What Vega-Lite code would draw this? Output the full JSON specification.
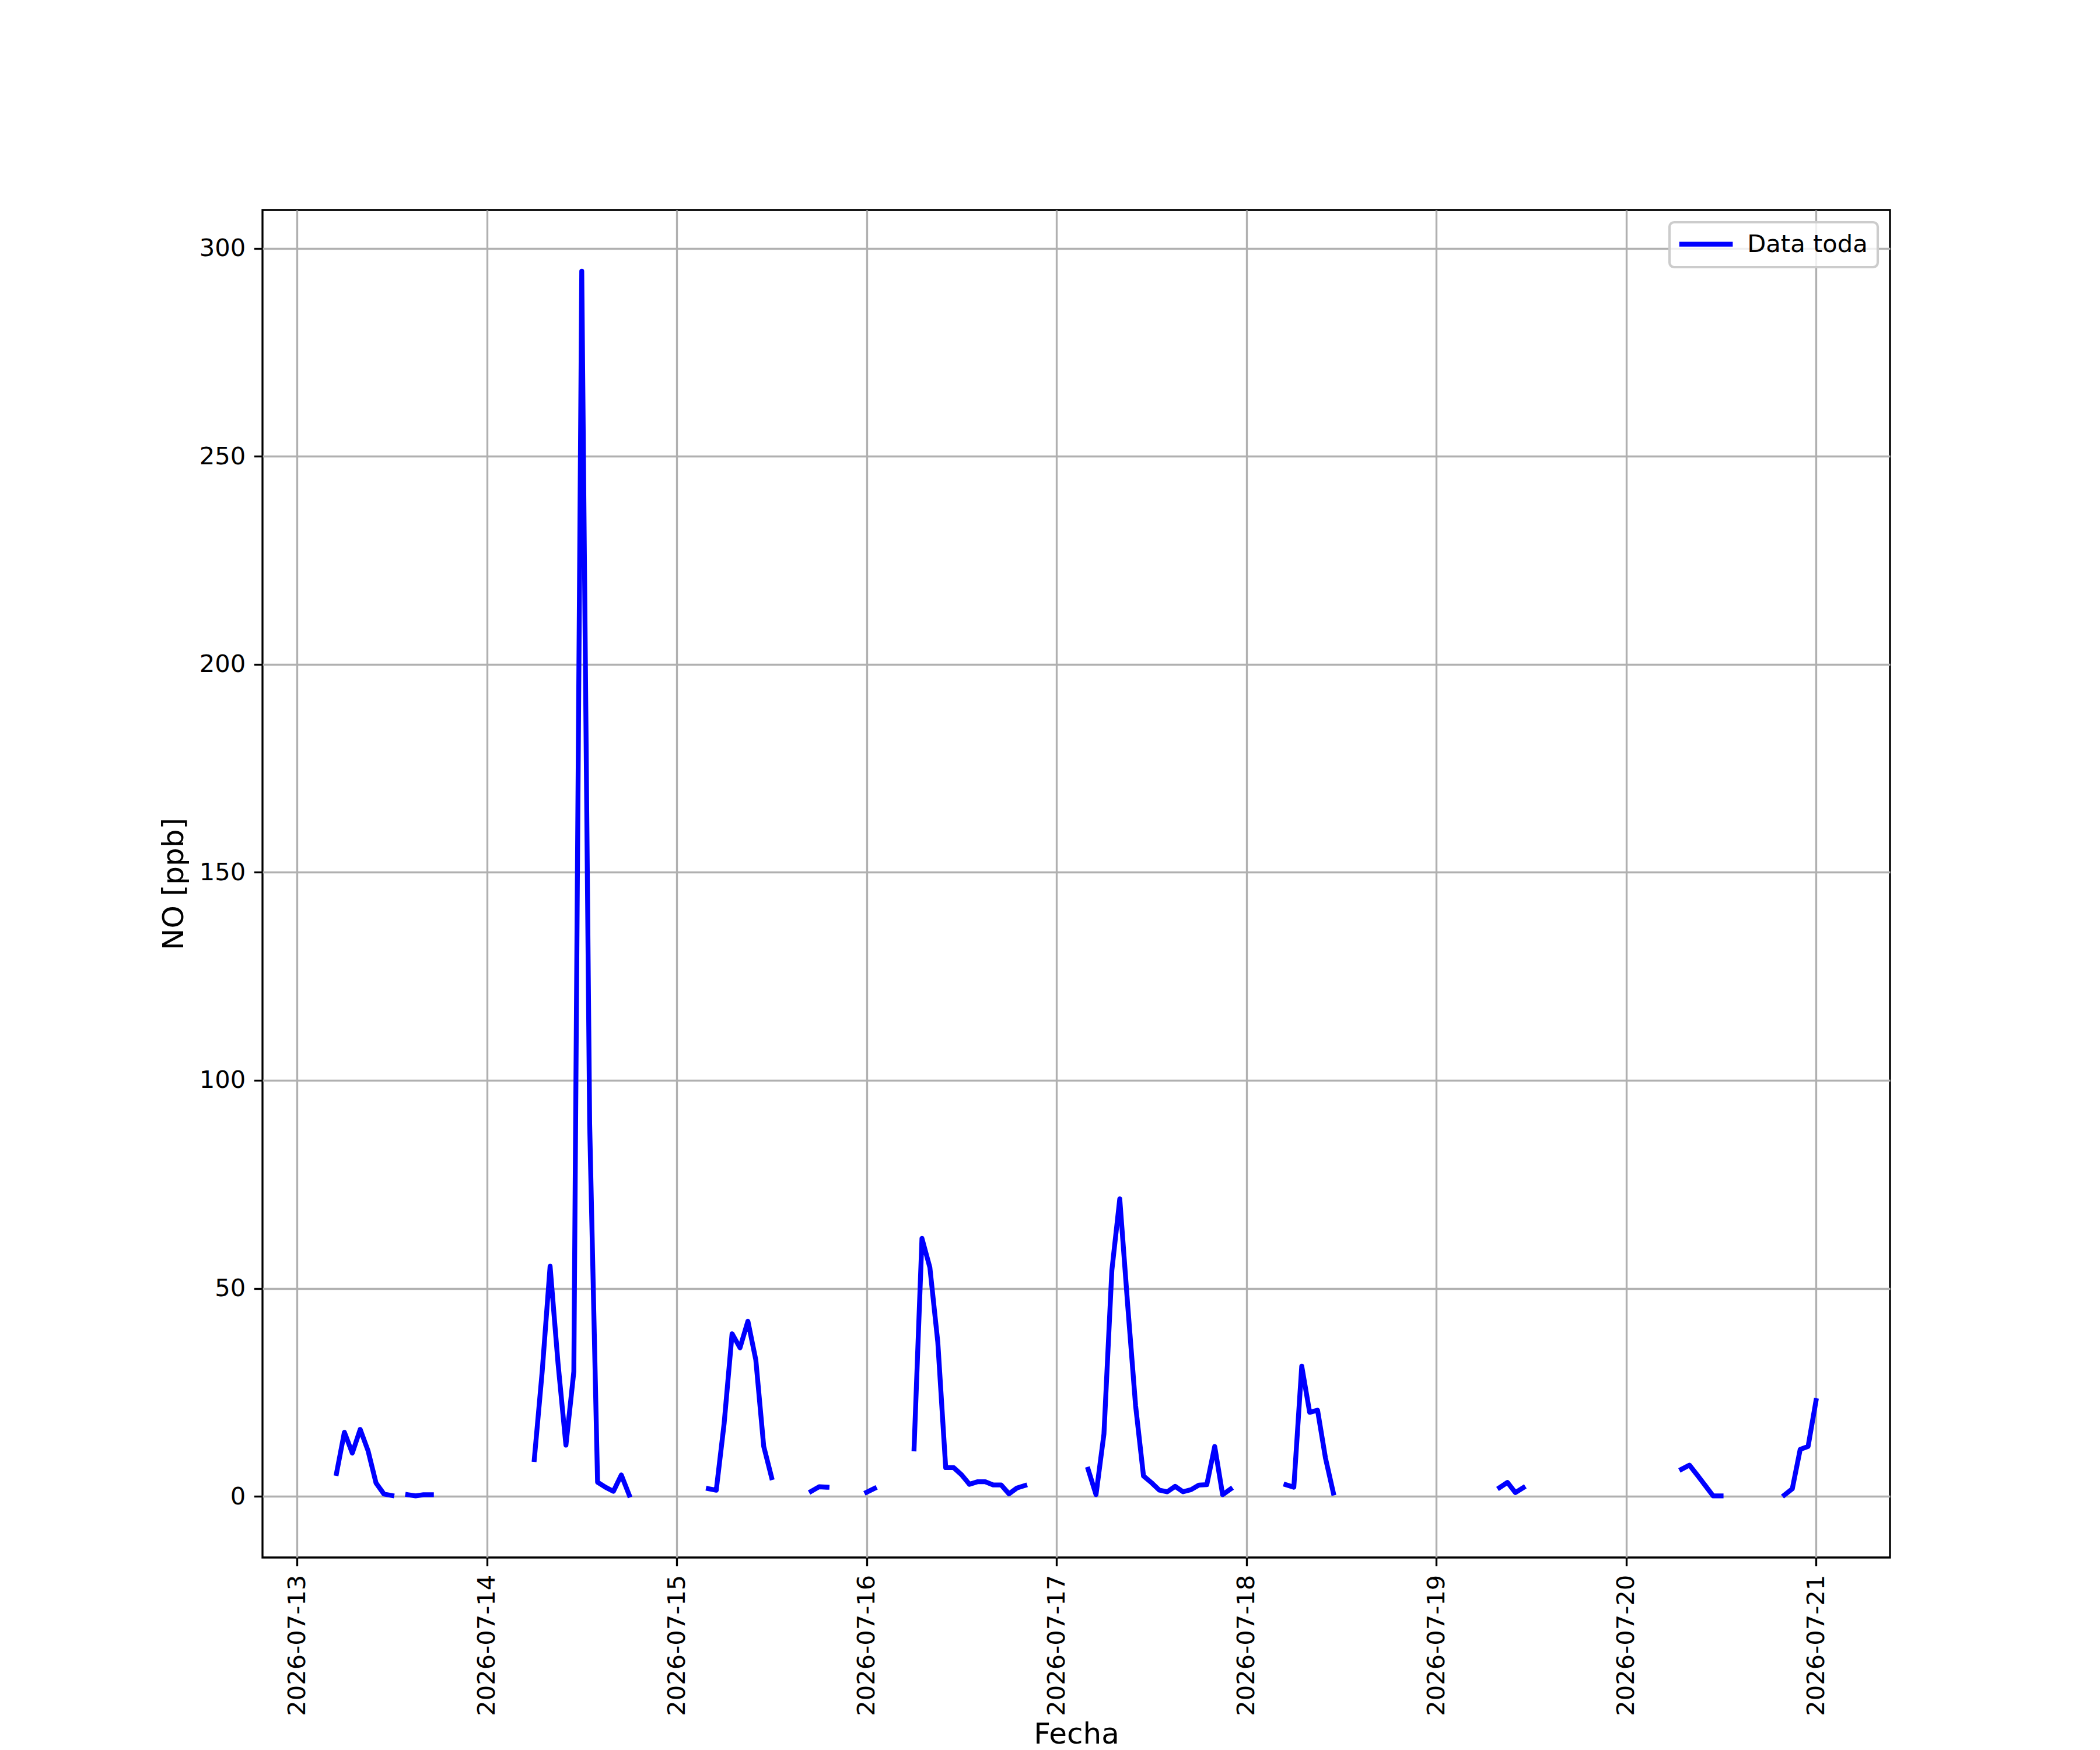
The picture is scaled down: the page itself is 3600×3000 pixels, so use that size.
{
  "$schema": "https://vega.github.io/schema/vega-lite/v6.json",
  "width": 2790,
  "height": 2310,
  "autosize": {"type": "none"},
  "padding": {"left": 450, "top": 360, "right": 360, "bottom": 330},
  "background": "#ffffff",
  "data": {
    "values": [
      {"t": "2026-07-13T05:00:00", "v": 5.5},
      {"t": "2026-07-13T06:00:00", "v": 15.4},
      {"t": "2026-07-13T07:00:00", "v": 10.4},
      {"t": "2026-07-13T08:00:00", "v": 16.1},
      {"t": "2026-07-13T09:00:00", "v": 10.9},
      {"t": "2026-07-13T10:00:00", "v": 3.2},
      {"t": "2026-07-13T11:00:00", "v": 0.55},
      {"t": "2026-07-13T12:00:00", "v": 0.2},
      {"t": "2026-07-13T13:00:00", "v": null},
      {"t": "2026-07-13T14:00:00", "v": 0.4},
      {"t": "2026-07-13T15:00:00", "v": 0.1},
      {"t": "2026-07-13T16:00:00", "v": 0.4},
      {"t": "2026-07-13T17:00:00", "v": 0.4},
      {"t": "2026-07-13T18:00:00", "v": null},
      {"t": "2026-07-14T06:00:00", "v": 8.85},
      {"t": "2026-07-14T07:00:00", "v": 30.0},
      {"t": "2026-07-14T08:00:00", "v": 55.3},
      {"t": "2026-07-14T09:00:00", "v": 32.0},
      {"t": "2026-07-14T10:00:00", "v": 12.3},
      {"t": "2026-07-14T11:00:00", "v": 30.0},
      {"t": "2026-07-14T12:00:00", "v": 294.5},
      {"t": "2026-07-14T13:00:00", "v": 89.5},
      {"t": "2026-07-14T14:00:00", "v": 3.4},
      {"t": "2026-07-14T15:00:00", "v": 2.2},
      {"t": "2026-07-14T16:00:00", "v": 1.2},
      {"t": "2026-07-14T17:00:00", "v": 5.15},
      {"t": "2026-07-14T18:00:00", "v": 0.3},
      {"t": "2026-07-14T19:00:00", "v": null},
      {"t": "2026-07-15T04:00:00", "v": 1.85},
      {"t": "2026-07-15T05:00:00", "v": 1.47},
      {"t": "2026-07-15T06:00:00", "v": 17.6},
      {"t": "2026-07-15T07:00:00", "v": 39.1},
      {"t": "2026-07-15T08:00:00", "v": 35.7},
      {"t": "2026-07-15T09:00:00", "v": 42.1},
      {"t": "2026-07-15T10:00:00", "v": 32.8},
      {"t": "2026-07-15T11:00:00", "v": 12.0},
      {"t": "2026-07-15T12:00:00", "v": 4.5},
      {"t": "2026-07-15T13:00:00", "v": null},
      {"t": "2026-07-15T17:00:00", "v": 1.2},
      {"t": "2026-07-15T18:00:00", "v": 2.3},
      {"t": "2026-07-15T19:00:00", "v": 2.2},
      {"t": "2026-07-15T20:00:00", "v": null},
      {"t": "2026-07-16T00:00:00", "v": 0.97},
      {"t": "2026-07-16T01:00:00", "v": 1.9},
      {"t": "2026-07-16T02:00:00", "v": null},
      {"t": "2026-07-16T06:00:00", "v": 11.4},
      {"t": "2026-07-16T07:00:00", "v": 62.0},
      {"t": "2026-07-16T08:00:00", "v": 55.0},
      {"t": "2026-07-16T09:00:00", "v": 37.1},
      {"t": "2026-07-16T10:00:00", "v": 6.9},
      {"t": "2026-07-16T11:00:00", "v": 6.9},
      {"t": "2026-07-16T12:00:00", "v": 5.2},
      {"t": "2026-07-16T13:00:00", "v": 2.9},
      {"t": "2026-07-16T14:00:00", "v": 3.5},
      {"t": "2026-07-16T15:00:00", "v": 3.5},
      {"t": "2026-07-16T16:00:00", "v": 2.75},
      {"t": "2026-07-16T17:00:00", "v": 2.75},
      {"t": "2026-07-16T18:00:00", "v": 0.6},
      {"t": "2026-07-16T19:00:00", "v": 2.0},
      {"t": "2026-07-16T20:00:00", "v": 2.6},
      {"t": "2026-07-16T21:00:00", "v": null},
      {"t": "2026-07-17T04:00:00", "v": 6.5},
      {"t": "2026-07-17T05:00:00", "v": 0.4},
      {"t": "2026-07-17T06:00:00", "v": 15.0},
      {"t": "2026-07-17T07:00:00", "v": 54.3},
      {"t": "2026-07-17T08:00:00", "v": 71.5},
      {"t": "2026-07-17T09:00:00", "v": 46.0},
      {"t": "2026-07-17T10:00:00", "v": 21.8},
      {"t": "2026-07-17T11:00:00", "v": 4.9},
      {"t": "2026-07-17T12:00:00", "v": 3.3},
      {"t": "2026-07-17T13:00:00", "v": 1.5},
      {"t": "2026-07-17T14:00:00", "v": 1.1},
      {"t": "2026-07-17T15:00:00", "v": 2.4},
      {"t": "2026-07-17T16:00:00", "v": 1.1},
      {"t": "2026-07-17T17:00:00", "v": 1.6},
      {"t": "2026-07-17T18:00:00", "v": 2.7},
      {"t": "2026-07-17T19:00:00", "v": 2.8},
      {"t": "2026-07-17T20:00:00", "v": 12.0},
      {"t": "2026-07-17T21:00:00", "v": 0.4},
      {"t": "2026-07-17T22:00:00", "v": 1.75},
      {"t": "2026-07-17T23:00:00", "v": null},
      {"t": "2026-07-18T05:00:00", "v": 2.8},
      {"t": "2026-07-18T06:00:00", "v": 2.2},
      {"t": "2026-07-18T07:00:00", "v": 31.3},
      {"t": "2026-07-18T08:00:00", "v": 20.2},
      {"t": "2026-07-18T09:00:00", "v": 20.7},
      {"t": "2026-07-18T10:00:00", "v": 9.2},
      {"t": "2026-07-18T11:00:00", "v": 0.8},
      {"t": "2026-07-18T12:00:00", "v": null},
      {"t": "2026-07-19T08:00:00", "v": 2.1},
      {"t": "2026-07-19T09:00:00", "v": 3.35},
      {"t": "2026-07-19T10:00:00", "v": 0.9},
      {"t": "2026-07-19T11:00:00", "v": 2.1},
      {"t": "2026-07-19T12:00:00", "v": null},
      {"t": "2026-07-20T07:00:00", "v": 6.5},
      {"t": "2026-07-20T08:00:00", "v": 7.5},
      {"t": "2026-07-20T09:00:00", "v": 5.1},
      {"t": "2026-07-20T10:00:00", "v": 2.6},
      {"t": "2026-07-20T11:00:00", "v": 0.1},
      {"t": "2026-07-20T12:00:00", "v": 0.1},
      {"t": "2026-07-20T13:00:00", "v": null},
      {"t": "2026-07-20T20:00:00", "v": 0.3},
      {"t": "2026-07-20T21:00:00", "v": 1.8},
      {"t": "2026-07-20T22:00:00", "v": 11.3},
      {"t": "2026-07-20T23:00:00", "v": 12.0},
      {"t": "2026-07-21T00:00:00", "v": 23.0}
    ]
  },
  "mark": {
    "type": "line",
    "strokeWidth": 8.33,
    "strokeCap": "square",
    "strokeJoin": "round",
    "clip": true,
    "invalid": "break-paths-show-domains"
  },
  "encoding": {
    "x": {
      "field": "t",
      "type": "temporal",
      "scale": {
        "domain": [
          {"year": 2026, "month": 7, "date": 12, "hours": 19, "minutes": 39},
          {"year": 2026, "month": 7, "date": 21, "hours": 9, "minutes": 21}
        ]
      },
      "axis": {
        "title": "Fecha",
        "values": [
          {"year": 2026, "month": 7, "date": 13},
          {"year": 2026, "month": 7, "date": 14},
          {"year": 2026, "month": 7, "date": 15},
          {"year": 2026, "month": 7, "date": 16},
          {"year": 2026, "month": 7, "date": 17},
          {"year": 2026, "month": 7, "date": 18},
          {"year": 2026, "month": 7, "date": 19},
          {"year": 2026, "month": 7, "date": 20},
          {"year": 2026, "month": 7, "date": 21}
        ],
        "format": "%Y-%m-%d",
        "labelAngle": 270,
        "labelAlign": "right",
        "labelBaseline": "middle",
        "labelLimit": 0,
        "titleY": 318,
        "titleBaseline": "alphabetic"
      }
    },
    "y": {
      "field": "v",
      "type": "quantitative",
      "scale": {"domain": [-14.7, 309.2], "nice": false, "zero": false},
      "axis": {
        "title": "NO [ppb]",
        "values": [0, 50, 100, 150, 200, 250, 300],
        "titlePadding": 18
      }
    },
    "color": {
      "datum": "Data toda",
      "type": "nominal",
      "scale": {"range": ["#0000ff"]},
      "legend": {
        "title": null,
        "orient": "top-right",
        "offset": 20.7,
        "symbolType": "M-2.8,0L3.2,0",
        "symbolStrokeWidth": 8.33,
        "symbolSize": 934,
        "symbolOffset": 21.9,
        "labelOffset": 52.9,
        "labelLimit": 0,
        "padding": 16.8,
        "strokeColor": "#cccccc",
        "fillColor": "rgba(255,255,255,0.8)",
        "cornerRadius": 8
      }
    }
  },
  "config": {
    "font": "DejaVu Sans",
    "view": {"stroke": "#000000", "strokeWidth": 3.33},
    "axis": {
      "domain": false,
      "grid": true,
      "gridColor": "#b0b0b0",
      "gridWidth": 3.33,
      "tickColor": "#000000",
      "tickWidth": 3.33,
      "tickSize": 14.6,
      "labelPadding": 14.6,
      "labelFont": "DejaVu Sans",
      "labelFontSize": 41.67,
      "labelColor": "#000000",
      "labelFlush": false,
      "labelOverlap": false,
      "labelLimit": 0,
      "titleFont": "DejaVu Sans",
      "titleFontSize": 50,
      "titleFontWeight": "normal",
      "titleColor": "#000000"
    },
    "legend": {
      "labelFont": "DejaVu Sans",
      "labelFontSize": 41.67,
      "labelColor": "#000000",
      "labelLimit": 0,
      "strokeWidth": 4.17
    }
  }
}
